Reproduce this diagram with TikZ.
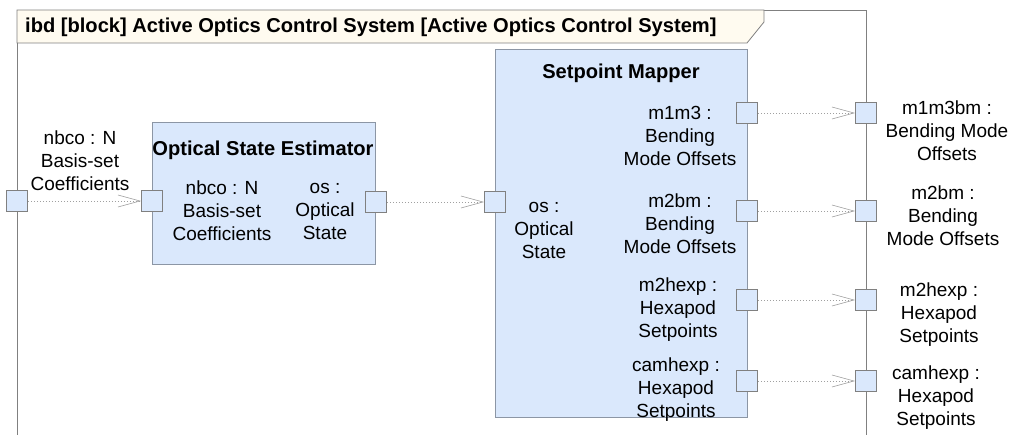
\documentclass[tikz,border=0pt]{standalone}
\usepackage{fontspec}
\setmainfont{Liberation Sans}
\usetikzlibrary{arrows.meta}
\definecolor{blockfill}{RGB}{218,232,252}
\definecolor{blockline}{RGB}{140,150,165}
\definecolor{frameline}{RGB}{128,128,128}
\definecolor{titlefill}{RGB}{255,251,240}
\definecolor{flowline}{RGB}{160,160,160}
\begin{document}
\begin{tikzpicture}[x=1pt,y=-1pt]
\tikzstyle{every node}=[font=\fontsize{19}{23}\selectfont]
\tikzstyle{block}=[draw=blockline, fill=blockfill, line width=0.8pt, inner sep=0pt]
\tikzstyle{port}=[draw=frameline, fill=blockfill, line width=0.8pt, minimum size=21pt, inner sep=0pt]
\tikzstyle{lbl}=[align=center, inner sep=0pt]
\tikzstyle{title}=[font=\fontsize{20.1}{23}\selectfont\bfseries, inner sep=0pt]
\tikzstyle{flow}=[draw=flowline, dash pattern=on 1.5pt off 1.5pt, line width=0.6pt,
  -{Straight Barb[length=22pt,width=12pt,line width=0.6pt]}]
\useasboundingbox (0,0) rectangle (1013,435);

% frame
\draw[frameline, line width=0.8pt] (17,440) -- (17,10) -- (866,10) -- (866,440);
\draw[frameline, fill=titlefill, line width=0.8pt] (17,10) -- (764,10) -- (764,22) -- (747,43) -- (17,43) -- cycle;
\node[title, anchor=west] (ttl) at (25,27) {ibd [block] Active Optics Control System [Active Optics Control System]};

% blocks
\node[block, minimum width=223pt, minimum height=142pt] (ose) at (263.5,193) {};
\node[block, minimum width=252pt, minimum height=368pt] (spm) at (621,233) {};
\node[title] (oset) at (263,150) {Optical State Estimator};
\node[title] (spmt) at (621,73) {Setpoint Mapper};

% ports
\node[port] (pin)  at (17,201)  {};
\node[port] (pa)   at (152,201) {};
\node[port] (pb)   at (376,202) {};
\node[port] (pc)   at (495,202) {};
\node[port] (pd1)  at (747,113) {};
\node[port] (pd2)  at (747,211) {};
\node[port] (pd3)  at (747,300) {};
\node[port] (pd4)  at (747,381) {};
\node[port] (po1)  at (866,113) {};
\node[port] (po2)  at (866,211) {};
\node[port] (po3)  at (866,300) {};
\node[port] (po4)  at (866,381) {};

% labels
\node[lbl] (lin)  at (80,161)  {nbco : N\\Basis-set\\Coefficients};
\node[lbl] (la)   at (222,211) {nbco : N\\Basis-set\\Coefficients};
\node[lbl] (lb)   at (325,211) {os :\\Optical\\State};
\node[lbl] (lc)   at (544,230) {os :\\Optical\\State};
\node[lbl] (ld1)  at (680,136) {m1m3 :\\Bending\\Mode Offsets};
\node[lbl] (ld2)  at (680,224) {m2bm :\\Bending\\Mode Offsets};
\node[lbl] (ld3)  at (678,310) {m2hexp :\\Hexapod\\Setpoints};
\node[lbl] (ld4)  at (676,390) {camhexp :\\Hexapod\\Setpoints};
\node[lbl] (lo1)  at (947,131) {m1m3bm :\\Bending Mode\\Offsets};
\node[lbl] (lo2)  at (943,216) {m2bm :\\Bending\\Mode Offsets};
\node[lbl] (lo3)  at (939,315) {m2hexp :\\Hexapod\\Setpoints};
\node[lbl] (lo4)  at (936,398) {camhexp :\\Hexapod\\Setpoints};

% connectors
\draw[flow] (pin) -- (pa);
\draw[flow] (pb) -- (pc);
\draw[flow] (pd1) -- (po1);
\draw[flow] (pd2) -- (po2);
\draw[flow] (pd3) -- (po3);
\draw[flow] (pd4) -- (po4);
\end{tikzpicture}
\end{document}
